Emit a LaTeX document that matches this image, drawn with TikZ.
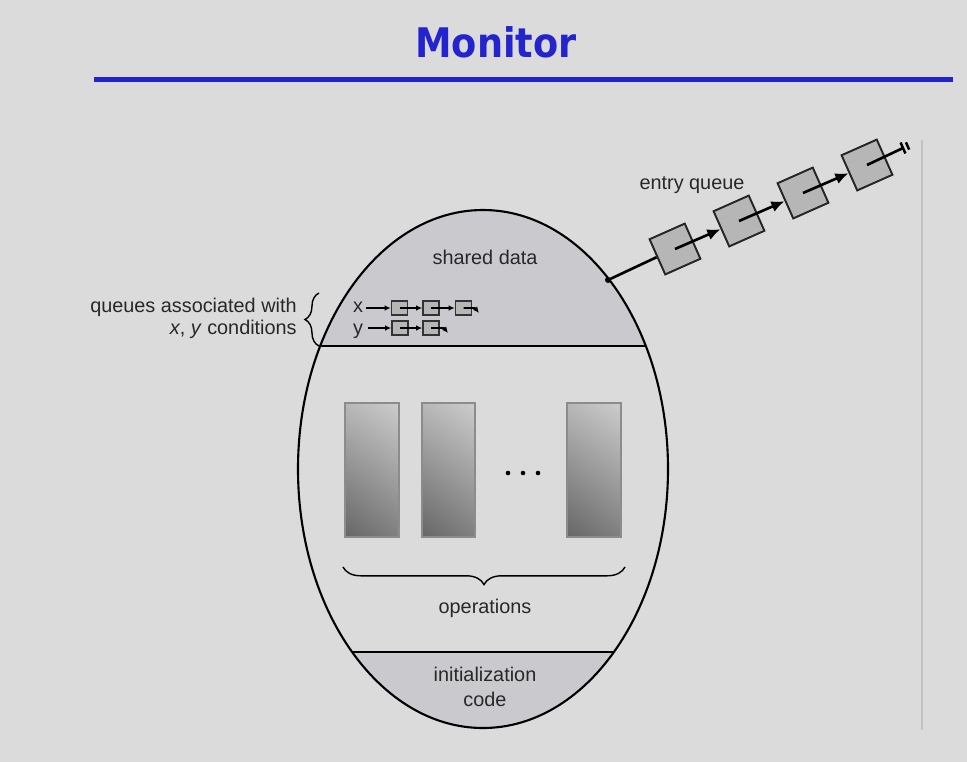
\documentclass[tikz,border=0pt]{standalone}
\usepackage{fontspec}
\setmainfont{Liberation Sans}
\newfontfamily\titlefont{DejaVu Sans}
\usetikzlibrary{arrows.meta,decorations.pathreplacing,shadings}

\definecolor{slidegray}{RGB}{219,219,219}
\definecolor{titleblue}{RGB}{36,36,206}
\definecolor{regiongray}{RGB}{202,202,206}
\definecolor{boxgray}{RGB}{182,182,182}
\definecolor{inkgray}{RGB}{40,40,40}
\definecolor{rulegray}{RGB}{190,195,195}

\begin{document}
\begin{tikzpicture}[
    x=0.02cm, y=-0.02cm,
    txt/.style={font={\fontsize{11.3}{13.5}\selectfont}, text=inkgray, inner sep=0pt},
    entrybox/.style={draw=black!85, fill=boxgray, line width=1.1pt, minimum size=0.77cm, inner sep=0pt, rotate=24},
    condbox/.style={draw=black!80, fill=boxgray, line width=0.9pt, minimum width=0.32cm, minimum height=0.29cm, inner sep=0pt},
    bigptr/.style={line width=1.5pt, -{Latex[length=7.5pt,width=6.5pt]}},
    smallptr/.style={line width=0.9pt, -{Latex[length=3.5pt,width=3.2pt]}},
    oper/.style={draw=black!45, line width=0.7pt, upper left=black!28, upper right=black!20, lower left=black!60, lower right=black!50}
]

    \fill[slidegray] (0,0) rectangle (967,762);
    \useasboundingbox (0,0) rectangle (967,762);

    % Draw title and rule
    \node[font={\titlefont\bfseries\fontsize{23.2}{28}\selectfont}, text=titleblue, xscale=0.9] (title) at (496,42) {Monitor};
    \draw[titleblue, line width=2.8pt] (94,79.5) -- (953,79.5);
    \draw[rulegray, line width=1pt] (922,140) -- (922,730);

    % Draw monitor regions
    \begin{scope}
        \clip (483,469) ellipse [x radius=185, y radius=259];
        \fill[regiongray] (280,200) rectangle (690,346);
        \fill[regiongray] (280,652) rectangle (690,740);
        \draw[line width=1.2pt] (280,346) -- (690,346);
        \draw[line width=1.2pt] (280,652) -- (690,652);
    \end{scope}
    \draw[line width=1.2pt] (483,469) ellipse [x radius=185, y radius=259];

    \node[txt, anchor=base] (shared) at (485,264) {shared data};
    \node[txt, anchor=base] (ops) at (485,613) {operations};
    \node[txt, anchor=base] (init1) at (485,681) {initialization};
    \node[txt, anchor=base] (init2) at (485,706) {code};

    % Draw operations
    \shadedraw[oper] (345,403) rectangle (399,537);
    \shadedraw[oper] (422,403) rectangle (475,537);
    \shadedraw[oper] (567,403) rectangle (621,537);
    \foreach \dx in {508,523,538}
        \fill[black] (\dx,473) circle [radius=2.3];
    \draw[line width=0.8pt, decorate, decoration={brace, amplitude=10pt}] (625,567) -- (343,567);

    % Draw condition queues
    \node[txt, anchor=base east] (qlabel1) at (297,312) {queues associated with};
    \node[txt, anchor=base east] (qlabel2) at (297,334) {\textit{x}, \textit{y} conditions};
    \draw[line width=0.8pt, decorate, decoration={brace, amplitude=8pt}] (319,346) -- (319,293);

    \node[txt, anchor=base] (xname) at (358,312) {x};
    \node[txt, anchor=base] (yname) at (358,334) {y};
    \node[condbox] (x1) at (399.5,308) {};
    \node[condbox] (x2) at (431,308) {};
    \node[condbox] (x3) at (463.5,308) {};
    \node[condbox] (y1) at (400,328) {};
    \node[condbox] (y2) at (431,328) {};
    \coordinate (xtail) at (475,308);
    \coordinate (ytail) at (444,328);

    \draw[smallptr] (xname.east |- x1) ++(3,0) -- (x1.west);
    \draw[smallptr] (x1.center) -- (x2.west);
    \draw[smallptr] (x2.center) -- (x3.west);
    \draw[smallptr] (x3.center) -- (xtail) -- ++(4,5);
    \draw[smallptr] (yname.east |- y1) ++(5,0) -- (y1.west);
    \draw[smallptr] (y1.center) -- (y2.west);
    \draw[smallptr] (y2.center) -- (ytail) -- ++(4,5);

    % Draw entry queue
    \node[txt, anchor=base] (entrylabel) at (692,189) {entry queue};
    \coordinate (entry) at (608,280);
    \node[entrybox] (e1) at (675,249) {};
    \node[entrybox] (e2) at (739,221) {};
    \node[entrybox] (e3) at (803,193) {};
    \node[entrybox] (e4) at (867,165) {};
    \coordinate (gnd) at (903,148);

    \fill (entry) circle [radius=3];
    \draw[line width=1.5pt] (entry) -- (e1.west);
    \draw[bigptr] (e1.center) -- (e2.west);
    \draw[bigptr] (e2.center) -- (e3.west);
    \draw[bigptr] (e3.center) -- (e4.west);
    \draw[line width=1.5pt] (e4.center) -- (gnd);
    \begin{scope}[shift={(gnd)}, rotate=24]
        \draw[line width=1.4pt] (0,-6) -- (0,6);
        \draw[line width=1.4pt] (5,-4) -- (5,4);
    \end{scope}

\end{tikzpicture}
\end{document}
